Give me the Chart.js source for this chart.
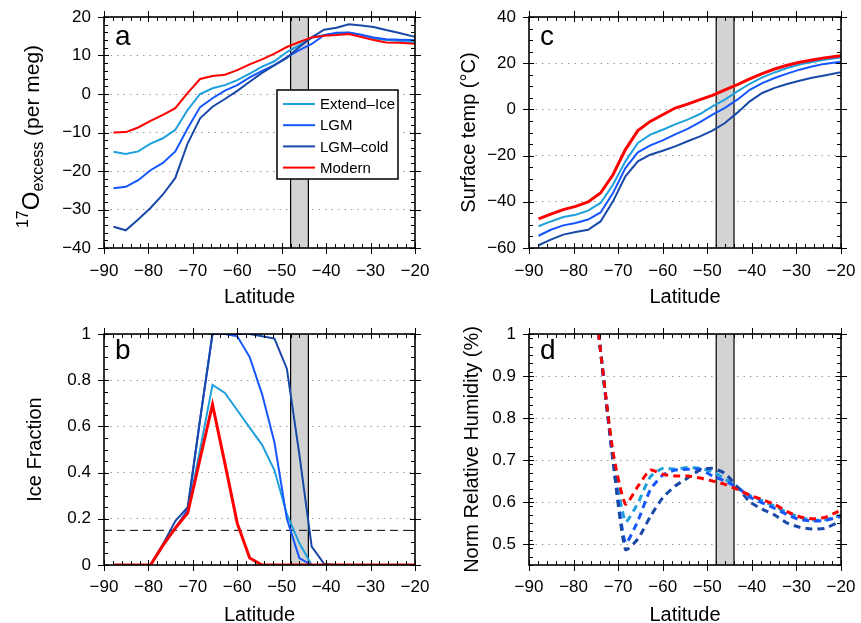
<!DOCTYPE html>
<html>
<head>
<meta charset="utf-8">
<script src="https://cdn.jsdelivr.net/npm/chart.js@4.4.1/dist/chart.umd.min.js"></script>
<style>
  html, body { margin: 0; padding: 0; background: #fff; overflow: hidden; }
  #wrap { position: relative; width: 861px; height: 623px; }
  canvas { position: absolute; }
</style>
</head>
<body>
<div id="wrap">
  <canvas id="panelA" width="432" height="310" style="left:0;top:0"></canvas>
  <canvas id="panelC" width="431" height="310" style="left:430px;top:0"></canvas>
  <canvas id="panelB" width="432" height="320" style="left:0;top:310px"></canvas>
  <canvas id="panelD" width="431" height="320" style="left:430px;top:310px"></canvas>
</div>
<script>
// model latitudes (Gaussian grid, southern hemisphere)
const lats = [-87.86, -85.10, -82.31, -79.53, -76.74, -73.95, -71.16, -68.37, -65.58, -62.79,
              -60.00, -57.21, -54.42, -51.63, -48.84, -46.04, -43.25, -40.46, -37.67, -34.88,
              -32.09, -29.30, -26.51, -23.72, -20.93, -18.14];

const seriesNames = ['Extend-Ice', 'LGM', 'LGM-cold', 'Modern'];
const seriesColors = ['#1ea0dc', '#1656ff', '#1848a8', '#ff0000'];

// shaded latitude band
const bandLats = [-48, -44];
// sea-ice threshold (panel b)
const iceThreshold = 0.15;

// a: 17O-excess (per meg)
const o17Extend = [-15.0, -15.6, -14.9, -12.9, -11.5, -9.3, -4.1, 0.0, 1.5, 2.3, 3.6, 5.3, 7.1, 8.5, 10.9, 12.7, 14.6, 15.3, 15.7, 15.9, 15.3, 14.4, 14.0, 13.8, 13.5, 13.3];
const o17Lgm     = [-24.5, -24.1, -22.4, -19.8, -17.9, -14.9, -8.9, -3.4, -1.1, 0.9, 2.3, 4.3, 6.0, 7.5, 9.6, 11.4, 13.0, 15.3, 15.9, 16.0, 15.4, 14.7, 14.2, 14.1, 14.0, 13.9];
const o17Cold    = [-34.5, -35.4, -32.6, -29.6, -26.1, -21.8, -12.8, -6.3, -3.3, -1.3, 0.8, 3.2, 5.5, 7.5, 9.4, 12.2, 14.7, 16.7, 17.2, 18.1, 17.8, 17.4, 16.6, 15.9, 15.1, 14.4];
const o17Modern  = [-10.0, -9.9, -8.7, -7.0, -5.4, -3.7, 0.3, 3.9, 4.7, 5.0, 6.2, 7.7, 9.0, 10.5, 12.2, 13.5, 14.7, 15.1, 15.3, 15.6, 14.8, 14.0, 13.4, 13.3, 13.1, 13.0];

// b: ice fraction
const iceExtend = [0, 0, 0, 0, 0.085, 0.16, 0.23, 0.50, 0.78, 0.745, 0.67, 0.595, 0.52, 0.41, 0.22, 0.095, 0, 0, 0, 0, 0, 0, 0, 0, 0, 0];
const iceLgm    = [0, 0, 0, 0, 0.085, 0.16, 0.24, 0.63, 1.0, 1.0, 0.99, 0.90, 0.74, 0.53, 0.20, 0.03, 0, 0, 0, 0, 0, 0, 0, 0, 0, 0];
const iceCold   = [0, 0, 0, 0, 0.09, 0.19, 0.25, 0.63, 1.0, 1.0, 1.0, 1.0, 0.99, 0.98, 0.85, 0.48, 0.08, 0.005, 0, 0, 0, 0, 0, 0, 0, 0];
const iceModern = [0, 0, 0, 0, 0.085, 0.16, 0.225, 0.46, 0.695, 0.44, 0.18, 0.03, 0, 0, 0, 0, 0, 0, 0, 0, 0, 0, 0, 0, 0, 0];

// c: surface temperature (deg C)
const tsExtend = [-50.6, -48.5, -46.6, -45.6, -43.8, -40.5, -32.6, -22.5, -14.5, -10.9, -8.8, -6.5, -4.4, -2.0, 1.3, 4.2, 7.8, 11.1, 13.9, 16.0, 17.9, 19.4, 20.5, 21.5, 22.3, 23.0];
const tsLgm    = [-54.7, -52.1, -50.2, -49.2, -47.7, -44.6, -36.2, -25.4, -18.6, -15.6, -13.4, -10.8, -8.4, -5.5, -2.3, 0.7, 4.2, 8.5, 11.4, 13.6, 15.5, 17.2, 18.6, 19.7, 20.4, 21.1];
const tsCold   = [-58.8, -56.4, -54.2, -53.1, -52.1, -48.5, -39.8, -29.0, -22.5, -19.6, -17.9, -16.0, -13.8, -11.7, -9.2, -5.9, -1.4, 3.5, 7.1, 9.3, 11.0, 12.4, 13.7, 14.7, 15.8, 16.6];
const tsModern = [-47.4, -45.3, -43.4, -42.0, -40.1, -36.2, -28.3, -17.4, -9.2, -5.2, -2.3, 0.6, 2.3, 4.2, 6.1, 8.5, 10.7, 13.2, 15.5, 17.5, 19.1, 20.4, 21.4, 22.3, 23.0, 23.6];

// d: normalised relative humidity
const rhExtend = [null, null, null, 1.6, 1.25, 0.96, 0.71, 0.553, 0.597, 0.66, 0.68, 0.678, 0.682, 0.68, 0.672, 0.655, 0.635, 0.616, 0.603, 0.59, 0.575, 0.564, 0.557, 0.557, 0.566, 0.575];
const rhLgm    = [null, null, null, 1.6, 1.25, 0.96, 0.70, 0.502, 0.555, 0.629, 0.664, 0.676, 0.678, 0.678, 0.662, 0.65, 0.635, 0.612, 0.598, 0.585, 0.57, 0.558, 0.555, 0.556, 0.563, 0.57];
const rhCold   = [null, null, null, 1.6, 1.25, 0.96, 0.70, 0.487, 0.512, 0.565, 0.61, 0.638, 0.657, 0.676, 0.68, 0.668, 0.636, 0.60, 0.583, 0.569, 0.55, 0.54, 0.536, 0.537, 0.55, 0.56];
const rhModern = [null, null, null, 1.6, 1.25, 0.96, 0.72, 0.595, 0.637, 0.676, 0.666, 0.662, 0.662, 0.657, 0.65, 0.642, 0.63, 0.616, 0.606, 0.594, 0.577, 0.565, 0.56, 0.563, 0.576, 0.59];

const FONT = '"Liberation Sans", Arial, Helvetica, sans-serif';
Chart.defaults.font.family = FONT;
Chart.defaults.color = '#000';

const minus = v => String(v).replace('-', '\u2212');
const toPoints = vals => lats.map((x, i) => ({ x: x, y: vals[i] }));

function lineSets(allVals, widths, dash, tension) {
  return allVals.map((vals, i) => ({
    label: seriesNames[i],
    data: toPoints(vals),
    borderColor: seriesColors[i],
    borderWidth: widths[i],
    borderDash: dash,
    tension: tension,
    pointRadius: 0,
    fill: false,
    clip: 0,
    order: 3 - i // red drawn on top
  }));
}

// frame, NCL-like tick marks, shaded band, panel letter, legend
const panelDecor = {
  id: 'panelDecor',
  beforeDatasetsDraw(chart, args, o) {
    const { ctx, chartArea: a } = chart;
    const x = chart.scales.x;
    const x0 = x.getPixelForValue(bandLats[0]);
    const x1 = x.getPixelForValue(bandLats[1]);
    ctx.save();
    ctx.fillStyle = '#d3d3d3';
    ctx.fillRect(x0, a.top, x1 - x0, a.bottom - a.top);
    ctx.strokeStyle = '#000';
    ctx.lineWidth = 1.2;
    ctx.beginPath();
    ctx.moveTo(x0, a.top); ctx.lineTo(x0, a.bottom);
    ctx.moveTo(x1, a.top); ctx.lineTo(x1, a.bottom);
    ctx.stroke();
    ctx.restore();
  },
  afterDatasetsDraw(chart, args, o) {
    const { ctx, chartArea: a } = chart;
    const sx = chart.scales.x, sy = chart.scales.y;
    ctx.save();
    ctx.strokeStyle = '#000';
    ctx.lineWidth = 1;

    // majors cross the frame, minors point inward
    ctx.beginPath();
    sx.ticks.forEach(t => {
      const p = Math.round(sx.getPixelForValue(t.value)) + 0.5;
      ctx.moveTo(p, a.bottom - 5); ctx.lineTo(p, a.bottom + 6);
      ctx.moveTo(p, a.top - 6); ctx.lineTo(p, a.top + 5);
    });
    sy.ticks.forEach(t => {
      const p = Math.round(sy.getPixelForValue(t.value)) + 0.5;
      ctx.moveTo(a.left - 6, p); ctx.lineTo(a.left + 5, p);
      ctx.moveTo(a.right - 5, p); ctx.lineTo(a.right + 6, p);
    });
    const minorVals = (s, step) => {
      const out = [];
      const majors = s.ticks.map(t => t.value);
      for (let v = s.min; v <= s.max + 1e-9; v += step) {
        const r = Math.round(v * 1e6) / 1e6;
        if (!majors.some(m => Math.abs(m - r) < step / 10)) out.push(r);
      }
      return out;
    };
    minorVals(sx, o.xMinor).forEach(v => {
      const p = Math.round(sx.getPixelForValue(v)) + 0.5;
      ctx.moveTo(p, a.bottom); ctx.lineTo(p, a.bottom - 4);
      ctx.moveTo(p, a.top); ctx.lineTo(p, a.top + 4);
    });
    minorVals(sy, o.yMinor).forEach(v => {
      const p = Math.round(sy.getPixelForValue(v)) + 0.5;
      ctx.moveTo(a.left, p); ctx.lineTo(a.left + 4, p);
      ctx.moveTo(a.right, p); ctx.lineTo(a.right - 4, p);
    });
    ctx.stroke();

    ctx.lineWidth = 1.6;
    ctx.strokeRect(a.left, a.top, a.right - a.left, a.bottom - a.top);

    // panel letter
    ctx.fillStyle = '#000';
    ctx.font = '28px ' + FONT;
    ctx.textAlign = 'left';
    ctx.textBaseline = 'alphabetic';
    ctx.fillText(o.letter, a.left + 11, a.top + o.letterY);

    if (o.legend) {
      const bx = a.left + 173, by = a.top + 73;
      ctx.fillStyle = '#fff';
      ctx.fillRect(bx, by, 121, 89);
      ctx.lineWidth = 1.5;
      ctx.strokeRect(bx, by, 121, 89);
      ctx.font = '15px ' + FONT;
      ctx.textBaseline = 'middle';
      chart.data.datasets.filter(d => seriesNames.includes(d.label)).forEach((d, i) => {
        const yy = by + 14 + i * 21.2;
        ctx.strokeStyle = d.borderColor;
        ctx.lineWidth = 2;
        ctx.beginPath();
        ctx.moveTo(bx + 6, yy); ctx.lineTo(bx + 38, yy);
        ctx.stroke();
        ctx.fillStyle = '#000';
        ctx.fillText(d.label.replace('-', '\u2013'), bx + 43, yy + 1);
      });
    }

    if (o.o17Title) {
      // 17O_excess (per meg), rotated
      const cx = 39, cy = (a.top + a.bottom) / 2 + 4;
      const parts = [
        { t: '17', f: 16, dy: -11 },
        { t: 'O', f: 24, dy: 0 },
        { t: 'excess', f: 16, dy: 4 },
        { t: ' (per meg)', f: 21, dy: 0 }
      ];
      let total = 0;
      parts.forEach(p => { ctx.font = p.f + 'px ' + FONT; p.w = ctx.measureText(p.t).width; total += p.w; });
      ctx.translate(cx, cy);
      ctx.rotate(-Math.PI / 2);
      ctx.fillStyle = '#000';
      ctx.textAlign = 'left';
      ctx.textBaseline = 'alphabetic';
      let pos = -total / 2;
      parts.forEach(p => {
        ctx.font = p.f + 'px ' + FONT;
        ctx.fillText(p.t, pos, p.dy);
        pos += p.w;
      });
    }
    ctx.restore();
  }
};

function makePanel(id, cfg) {
  const ctx = document.getElementById(id).getContext('2d');
  return new Chart(ctx, {
    type: 'line',
    data: { datasets: cfg.datasets },
    options: {
      responsive: false,
      animation: false,
      devicePixelRatio: 1,
      layout: { padding: { top: cfg.padTop, right: cfg.padRight, left: 0, bottom: 0 } },
      plugins: {
        legend: { display: false },
        tooltip: { enabled: false },
        panelDecor: cfg.decor
      },
      scales: {
        x: {
          type: 'linear',
          min: -90,
          max: -20,
          ticks: { stepSize: 10, padding: cfg.xTickPad, font: { size: 17 }, callback: minus, maxRotation: 0, autoSkip: false },
          grid: { display: false, drawTicks: false },
          border: { display: false },
          title: { display: true, text: 'Latitude', font: { size: 20, lineHeight: 1 }, padding: { top: 0, bottom: cfg.xTitlePad } },
          afterFit: s => { s.height = cfg.xHeight; s.paddingLeft = 0; s.paddingRight = 0; }
        },
        y: {
          min: cfg.yMin,
          max: cfg.yMax,
          afterBuildTicks: cfg.tickFilter || (() => {}),
          ticks: { stepSize: cfg.yStep, padding: 13, font: { size: 17 }, callback: minus, autoSkip: false },
          grid: { color: '#9a9a9a', lineWidth: 1, drawTicks: false },
          border: { display: false, dash: [1.5, 5] },
          title: { display: !!cfg.yTitle, text: cfg.yTitle, font: { size: 20, lineHeight: 1 }, padding: { top: cfg.yTitlePad, bottom: 0 } },
          afterFit: s => { s.width = cfg.yWidth; s.paddingTop = 0; s.paddingBottom = 0; }
        }
      }
    },
    plugins: [panelDecor]
  });
}

// a
makePanel('panelA', {
  datasets: lineSets([o17Extend, o17Lgm, o17Cold, o17Modern], [2, 2, 2, 2], [], 0),
  padTop: 17, padRight: 17, xHeight: 62, xTickPad: 13, xTitlePad: 3,
  yMin: -40, yMax: 20, yStep: 10, yWidth: 104, yTitle: '', yTitlePad: 0,
  decor: { letter: 'a', letterY: 28, xMinor: 2, yMinor: 2, legend: true, o17Title: true }
});

// c
makePanel('panelC', {
  datasets: lineSets([tsExtend, tsLgm, tsCold, tsModern], [2, 2, 2, 3], [], 0),
  padTop: 17, padRight: 20, xHeight: 62, xTickPad: 13, xTitlePad: 3,
  yMin: -60, yMax: 40, yStep: 20, yWidth: 99, yTitle: 'Surface temp (\u00B0C)', yTitlePad: 29,
  decor: { letter: 'c', letterY: 28, xMinor: 2, yMinor: 5 }
});

// b
const iceSets = lineSets([iceExtend, iceLgm, iceCold, iceModern], [2, 2, 2, 3], [], 0);
iceSets.push({
  label: 'threshold',
  data: [{ x: -90, y: iceThreshold }, { x: -20, y: iceThreshold }],
  borderColor: '#000', borderWidth: 1, borderDash: [8, 5], pointRadius: 0, order: 10
});
makePanel('panelB', {
  datasets: iceSets,
  padTop: 24, padRight: 17, xHeight: 65, xTickPad: 12, xTitlePad: 5,
  yMin: 0, yMax: 1, yStep: 0.2, yWidth: 104, yTitle: 'Ice Fraction', yTitlePad: 25,
  decor: { letter: 'b', letterY: 25, xMinor: 2, yMinor: 0.05 }
});

// d
makePanel('panelD', {
  datasets: lineSets([rhExtend, rhLgm, rhCold, rhModern], [3, 3, 3, 3], [7, 5], 0.2),
  padTop: 24, padRight: 20, xHeight: 65, xTickPad: 12, xTitlePad: 5,
  yMin: 0.45, yMax: 1, yStep: 0.1, yWidth: 99, yTitle: 'Norm Relative Humidity (%)', yTitlePad: 32,
  tickFilter: s => { s.ticks = s.ticks.filter(t => Math.abs(t.value * 10 - Math.round(t.value * 10)) < 1e-6); },
  decor: { letter: 'd', letterY: 25, xMinor: 2, yMinor: 0.02 }
});
</script>
</body>
</html>
